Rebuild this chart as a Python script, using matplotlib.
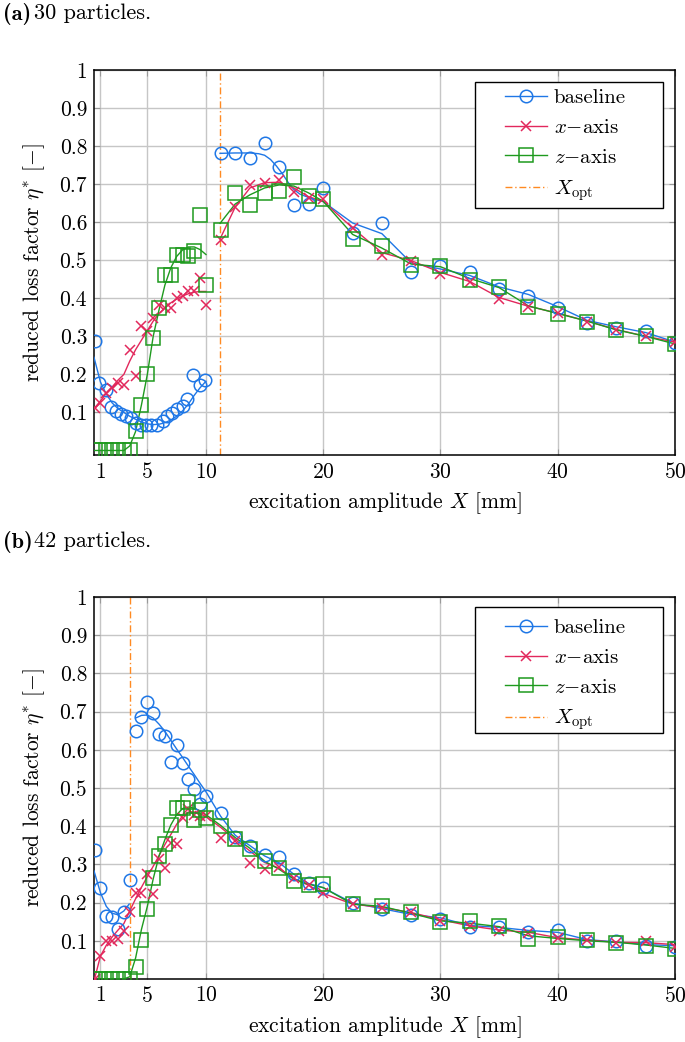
import matplotlib
matplotlib.use("Agg")
import matplotlib.pyplot as plt
from matplotlib.lines import Line2D
from matplotlib.patches import Rectangle

# ---- (a) 30 particles -------------------------------------------------------
A_XOPT = 11.2
A_X_BASE_LOW = [0.5, 0.9, 1.5, 1.9, 2.3, 2.75, 3.2, 3.6, 4.0, 4.45, 4.9, 5.3, 5.85, 6.3,
                6.7, 7.1, 7.55, 8.0, 8.4, 8.9, 9.5, 9.9]
A_BASE_LOW = [0.287, 0.178, 0.16, 0.115, 0.103, 0.097, 0.09, 0.085, 0.073, 0.068, 0.066,
              0.066, 0.068, 0.077, 0.09, 0.099, 0.108, 0.118, 0.134, 0.198, 0.173, 0.186]
A_X_LOW = [0.5, 1, 1.5, 2, 2.5, 3, 3.5, 4, 4.5, 5, 5.5, 6, 6.5, 7, 7.5, 8, 8.5, 9, 9.5, 10]
A_XAXIS_LOW = [0.112, 0.125, 0.151, 0.164, 0.178, 0.173, 0.265, 0.195, 0.326, 0.313, 0.348,
               0.383, 0.375, 0.375, 0.40, 0.405, 0.418, 0.42, 0.453, 0.383]
A_ZAXIS_LOW = [0, 0, 0, 0, 0, 0, 0, 0.05, 0.12, 0.2, 0.295, 0.375, 0.46, 0.46, 0.515, 0.515,
               0.51, 0.525, 0.62, 0.435]
A_X_HIGH = [11.25, 12.5, 13.75, 15, 16.25, 17.5, 18.75, 20, 22.5, 25, 27.5, 30, 32.5, 35,
            37.5, 40, 42.5, 45, 47.5, 50]
A_BASE_HIGH = [0.781, 0.781, 0.77, 0.809, 0.744, 0.644, 0.648, 0.691, 0.572, 0.598, 0.47,
               0.484, 0.468, 0.424, 0.407, 0.375, 0.335, 0.322, 0.315, 0.283]
A_XAXIS_HIGH = [0.554, 0.64, 0.698, 0.704, 0.711, 0.68, 0.663, 0.66, 0.585, 0.513, 0.499,
                0.465, 0.444, 0.398, 0.377, 0.361, 0.339, 0.316, 0.30, 0.284]
A_ZAXIS_HIGH = [0.58, 0.678, 0.646, 0.678, 0.681, 0.72, 0.668, 0.66, 0.557, 0.537, 0.488,
                0.486, 0.449, 0.43, 0.377, 0.36, 0.339, 0.316, 0.30, 0.281]

# fitted curves
A_FIT_X_LOW = [0.45, 1, 1.5, 2, 2.5, 3, 3.5, 4, 4.5, 5, 5.5, 6, 6.5, 7, 7.5, 8, 8.5, 9, 9.5, 10]
A_FIT_BASE_LOW = [0.245, 0.18, 0.148, 0.125, 0.11, 0.1, 0.09, 0.082, 0.075, 0.07, 0.068,
                  0.069, 0.073, 0.08, 0.09, 0.104, 0.122, 0.145, 0.165, 0.182]
A_FIT_XAXIS_LOW = [0.11, 0.13, 0.15, 0.167, 0.185, 0.2, 0.235, 0.265, 0.29, 0.315, 0.34,
                   0.36, 0.375, 0.388, 0.398, 0.406, 0.412, 0.416, 0.418, 0.418]
A_FIT_ZAXIS_LOW = [0, 0, 0, 0, 0, 0, 0.012, 0.05, 0.12, 0.2, 0.3, 0.37, 0.435, 0.48, 0.51,
                   0.527, 0.535, 0.535, 0.528, 0.515]
A_FIT_X_BASE_HIGH = [11.2, 12.5, 13.75, 14.5, 15, 15.5, 16, 16.5, 17, 17.5, 18, 18.75, 20,
                     22.5, 25, 27.5, 30, 32.5, 35, 37.5, 40, 42.5, 45, 47.5, 50]
A_FIT_BASE_HIGH = [0.781, 0.782, 0.782, 0.78, 0.776, 0.765, 0.748, 0.728, 0.705, 0.686,
                   0.674, 0.665, 0.654, 0.598, 0.570, 0.493, 0.477, 0.46, 0.43, 0.41, 0.378,
                   0.342, 0.325, 0.31, 0.285]
A_FIT_X_HIGH = [11.2, 12.5, 13.75, 15, 16.25, 17.5, 18.75, 20, 22.5, 25, 27.5, 30, 32.5, 35,
                37.5, 40, 42.5, 45, 47.5, 50]
A_FIT_XAXIS_HIGH = [0.556, 0.64, 0.69, 0.704, 0.705, 0.69, 0.667, 0.655, 0.585, 0.52, 0.499,
                    0.468, 0.444, 0.402, 0.379, 0.361, 0.34, 0.318, 0.30, 0.285]
A_FIT_ZAXIS_HIGH = [0.597, 0.648, 0.672, 0.69, 0.698, 0.695, 0.677, 0.655, 0.568, 0.532, 0.49,
                    0.483, 0.452, 0.428, 0.38, 0.36, 0.34, 0.317, 0.30, 0.28]

# ---- (b) 42 particles -------------------------------------------------------
B_XOPT = 3.5
B_X_LOW = [0.5, 1, 1.5, 2, 2.5, 3, 3.5]
B_BASE_LOW = [0.337, 0.237, 0.165, 0.163, 0.13, 0.175, 0.26]
B_X_HIGH = [4, 4.5, 5, 5.5, 6, 6.5, 7, 7.5, 8, 8.5, 9, 9.5, 10, 11.25, 12.5, 13.75, 15, 16.25,
            17.5, 18.75, 20, 22.5, 25, 27.5, 30, 32.5, 35, 37.5, 40, 42.5, 45, 47.5, 50]
B_BASE_HIGH = [0.648, 0.685, 0.726, 0.697, 0.642, 0.635, 0.567, 0.613, 0.565, 0.524, 0.497,
               0.459, 0.478, 0.435, 0.372, 0.348, 0.324, 0.32, 0.274, 0.25, 0.239, 0.198,
               0.184, 0.167, 0.158, 0.135, 0.137, 0.123, 0.128, 0.10, 0.10, 0.087, 0.083]
B_X = B_X_LOW + B_X_HIGH
B_XAXIS = [0.0, 0.061, 0.1, 0.1, 0.104, 0.126, 0.176, 0.226, 0.226, 0.274, 0.222, 0.313,
           0.291, 0.355, 0.352, 0.422, 0.445, 0.43, 0.426, 0.426, 0.37, 0.361, 0.304, 0.287,
           0.294, 0.265, 0.245, 0.224, 0.196, 0.187, 0.174, 0.152, 0.139, 0.126, 0.12, 0.106,
           0.103, 0.094, 0.10, 0.083]
B_ZAXIS = [0, 0, 0, 0, 0, 0, 0, 0.03, 0.103, 0.184, 0.263, 0.322, 0.354, 0.404, 0.448, 0.448,
           0.463, 0.416, 0.443, 0.422, 0.40, 0.367, 0.34, 0.309, 0.291, 0.256, 0.245, 0.248,
           0.196, 0.191, 0.174, 0.149, 0.152, 0.139, 0.104, 0.109, 0.103, 0.094, 0.087, 0.078]

B_FIT_X_BASE_LOW = [0.45, 1, 1.5, 2, 2.5, 3, 3.45]
B_FIT_BASE_LOW = [0.283, 0.226, 0.19, 0.172, 0.168, 0.178, 0.196]
B_FIT_BASE_HIGH = [0.683, 0.69, 0.691, 0.683, 0.667, 0.648, 0.625, 0.602, 0.58, 0.557, 0.535,
                   0.512, 0.49, 0.426, 0.376, 0.349, 0.322, 0.304, 0.274, 0.25, 0.239, 0.199,
                   0.184, 0.169, 0.16, 0.14, 0.135, 0.127, 0.122, 0.103, 0.097, 0.09, 0.087]
B_FIT_XAXIS = [0.0, 0.06, 0.088, 0.11, 0.128, 0.145, 0.178, 0.21, 0.24, 0.268, 0.295, 0.323,
               0.352, 0.378, 0.405, 0.427, 0.437, 0.437, 0.432, 0.425, 0.397, 0.365, 0.335,
               0.305, 0.29, 0.263, 0.245, 0.224, 0.196, 0.187, 0.174, 0.155, 0.139, 0.128,
               0.122, 0.108, 0.102, 0.096, 0.095, 0.09]
B_FIT_ZAXIS = [0, 0, 0, 0, 0, 0, 0.006, 0.055, 0.13, 0.19, 0.262, 0.322, 0.365, 0.403, 0.43,
               0.446, 0.45, 0.447, 0.44, 0.43, 0.402, 0.37, 0.342, 0.308, 0.287, 0.261, 0.248,
               0.239, 0.196, 0.19, 0.172, 0.152, 0.146, 0.137, 0.113, 0.106, 0.10, 0.096,
               0.089, 0.08]

X_TICKS = [1, 5, 10, 20, 30, 40, 50]
Y_TICKS = [0.1, 0.2, 0.3, 0.4, 0.5, 0.6, 0.7, 0.8, 0.9, 1.0]
Y_TICKLABELS = ["0.1", "0.2", "0.3", "0.4", "0.5", "0.6", "0.7", "0.8", "0.9", "1"]
LEGEND_LABELS = ["baseline", r"$x{-}$axis", r"$z{-}$axis", r"$X_{\mathrm{opt}}$"]

BLUE = "#1f77e6"; RED = "#e2285c"; GREEN = "#1e9a1e"; ORANGE = "#ff8a22"
FS = 15.5

plt.rcParams["font.family"] = ["cmr10", "DejaVu Serif"]
plt.rcParams["mathtext.fontset"] = "cm"
plt.rcParams["axes.formatter.use_mathtext"] = True
plt.rcParams["axes.unicode_minus"] = False

MK = dict(linestyle="none", fillstyle="none")
BASE_MK = dict(marker="o", ms=9, mew=1.1, color=BLUE)
X_MK = dict(marker="x", ms=6.5, mew=1.1, color=RED)
Z_MK = dict(marker="s", ms=9.5, mew=1.1, color=GREEN)
DASHDOT = (0, (5, 2, 1, 2))


def panel(ax, xopt, fits, points, ylim, box, leg_top):
    for xs, ys, c in fits:
        ax.plot(xs, ys, color=c, lw=1.0, zorder=3)
    for xs, ys, st in points:
        ax.plot(xs, ys, **MK, **st, zorder=4)
    ax.axvline(xopt, color=ORANGE, lw=1.0, ls=DASHDOT, zorder=2)
    ax.set_xlim(0.45, 50)
    ax.set_ylim(*ylim)
    ax.set_xticks(X_TICKS)
    ax.set_yticks(Y_TICKS)
    ax.set_yticklabels(Y_TICKLABELS)
    ax.grid(True, color="#c6c6c6", lw=1.0, zorder=0)
    ax.set_axisbelow(True)
    ax.tick_params(direction="in", length=4, color="#999999", labelsize=FS,
                   top=True, right=True, pad=5)
    for s in ax.spines.values():
        s.set_linewidth(1.1)
    ax.set_xlabel(r"excitation amplitude $X$ [mm]", fontsize=FS, labelpad=6)
    ax.set_ylabel(r"reduced loss factor $\eta^{*}$ [$-$]", fontsize=FS, labelpad=9)

    # pgfplots-like legend: wide square box, handles inset from the left
    x0, y0, x1, y1 = box
    ax.add_patch(Rectangle((x0, y0), x1 - x0, y1 - y0, transform=ax.transAxes,
                           fc="white", ec="black", lw=1.0, zorder=5))
    handles = [
        Line2D([], [], lw=1.0, fillstyle="none", **BASE_MK),
        Line2D([], [], lw=1.0, fillstyle="none", **X_MK),
        Line2D([], [], lw=1.0, fillstyle="none", **Z_MK),
        Line2D([], [], lw=1.0, color=ORANGE, ls=DASHDOT),
    ]
    leg = ax.legend(handles, LEGEND_LABELS, loc="upper left",
                    bbox_to_anchor=(0.690, leg_top), fontsize=15, frameon=False,
                    borderpad=0, handlelength=2.0, handletextpad=0.32,
                    labelspacing=0.53)
    leg.set_zorder(6)


fig = plt.figure(figsize=(6.85, 10.42), dpi=100)
ax1 = fig.add_axes([0.1372, 0.5633, 0.8482, 0.3695])
ax2 = fig.add_axes([0.1372, 0.0605, 0.8482, 0.3666])

panel(ax1, A_XOPT,
      [(A_FIT_X_LOW, A_FIT_BASE_LOW, BLUE), (A_FIT_X_BASE_HIGH, A_FIT_BASE_HIGH, BLUE),
       (A_FIT_X_LOW, A_FIT_XAXIS_LOW, RED), (A_FIT_X_HIGH, A_FIT_XAXIS_HIGH, RED),
       (A_FIT_X_LOW, A_FIT_ZAXIS_LOW, GREEN), (A_FIT_X_HIGH, A_FIT_ZAXIS_HIGH, GREEN)],
      [(A_X_BASE_LOW, A_BASE_LOW, BASE_MK), (A_X_HIGH, A_BASE_HIGH, BASE_MK),
       (A_X_LOW, A_XAXIS_LOW, X_MK), (A_X_HIGH, A_XAXIS_HIGH, X_MK),
       (A_X_LOW, A_ZAXIS_LOW, Z_MK), (A_X_HIGH, A_ZAXIS_HIGH, Z_MK)],
      (-0.012, 1.0), (0.6558, 0.6416, 0.9793, 0.9688), 0.978)

panel(ax2, B_XOPT,
      [(B_FIT_X_BASE_LOW, B_FIT_BASE_LOW, BLUE), (B_X_HIGH, B_FIT_BASE_HIGH, BLUE),
       (B_X, B_FIT_XAXIS, RED), (B_X, B_FIT_ZAXIS, GREEN)],
      [(B_X_LOW, B_BASE_LOW, BASE_MK), (B_X_HIGH, B_BASE_HIGH, BASE_MK),
       (B_X, B_XAXIS, X_MK), (B_X, B_ZAXIS, Z_MK)],
      (0.0, 1.0), (0.6558, 0.644, 0.9793, 0.9738), 0.970)

for y, tag, rest in [(0.987, "(a)", "30 particles."), (0.4801, "(b)", "42 particles.")]:
    fig.text(0.004, y, tag, fontsize=16, family="cmb10", va="center")
    fig.text(0.050, y, rest, fontsize=16, va="center")

fig.savefig("out.png", dpi=100)
